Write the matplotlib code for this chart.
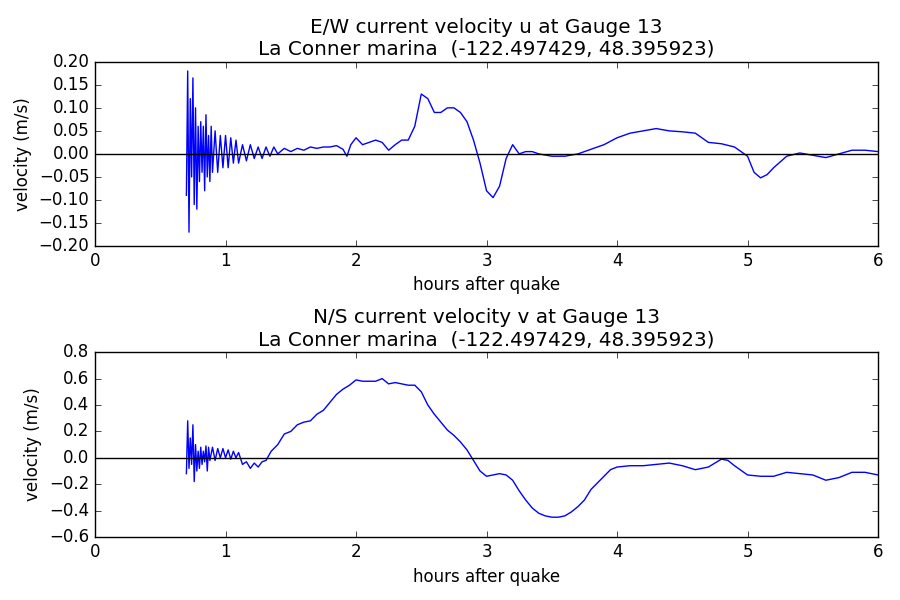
import matplotlib
matplotlib.use("Agg")
import matplotlib.pyplot as plt

t_u = [0.70, 0.71, 0.72, 0.73, 0.74, 0.75, 0.76, 0.77, 0.78, 0.79, 0.80, 0.81, 0.82, 0.83, 0.84,
       0.85, 0.86, 0.87, 0.88, 0.89, 0.90, 0.92, 0.94, 0.96, 0.98, 1.00, 1.02, 1.04, 1.06, 1.08,
       1.10, 1.13, 1.16, 1.19, 1.22, 1.25, 1.28, 1.31, 1.34, 1.37, 1.40, 1.45, 1.50, 1.55, 1.60,
       1.65, 1.70, 1.75, 1.80, 1.85, 1.90, 1.93, 1.96, 2.00, 2.05, 2.10, 2.15, 2.20, 2.25, 2.30,
       2.35, 2.40, 2.45, 2.50, 2.55, 2.60, 2.65, 2.70, 2.75, 2.80, 2.85, 2.90, 2.95, 3.00, 3.05,
       3.10, 3.15, 3.20, 3.25, 3.30, 3.35, 3.40, 3.50, 3.60, 3.70, 3.80, 3.90, 4.00, 4.10, 4.20,
       4.30, 4.40, 4.50, 4.60, 4.70, 4.80, 4.90, 5.00, 5.05, 5.10, 5.15, 5.20, 5.30, 5.40, 5.50,
       5.60, 5.70, 5.80, 5.90, 6.00]
u = [-0.09, 0.18, -0.17, 0.12, -0.05, 0.165, -0.11, 0.10, -0.12, 0.06, -0.06, 0.07, -0.04, 0.06, -0.08,
     0.085, -0.05, 0.04, -0.06, 0.06, -0.04, 0.05, -0.04, 0.04, -0.03, 0.04, -0.03, 0.035, -0.02, 0.03,
     -0.02, 0.02, -0.015, 0.02, -0.01, 0.015, -0.01, 0.015, -0.005, 0.015, 0.0, 0.012, 0.005, 0.012, 0.008,
     0.015, 0.012, 0.015, 0.015, 0.018, 0.01, -0.005, 0.02, 0.035, 0.02, 0.025, 0.03, 0.025, 0.008, 0.02,
     0.03, 0.03, 0.06, 0.13, 0.12, 0.09, 0.09, 0.10, 0.10, 0.09, 0.07, 0.03, -0.02, -0.08, -0.095,
     -0.07, -0.01, 0.02, 0.0, 0.005, 0.005, 0.0, -0.005, -0.005, 0.0, 0.01, 0.02, 0.035, 0.045, 0.05,
     0.055, 0.05, 0.048, 0.045, 0.025, 0.022, 0.015, -0.005, -0.04, -0.052, -0.045, -0.03, -0.005, 0.002, -0.003,
     -0.008, 0.0, 0.008, 0.008, 0.005]

t_v = [0.70, 0.71, 0.72, 0.73, 0.74, 0.75, 0.76, 0.77, 0.78, 0.79, 0.80, 0.81, 0.82, 0.83, 0.84,
       0.85, 0.86, 0.87, 0.88, 0.90, 0.92, 0.94, 0.96, 0.98, 1.00, 1.02, 1.04, 1.06, 1.08, 1.10,
       1.13, 1.16, 1.19, 1.22, 1.25, 1.28, 1.31, 1.35, 1.40, 1.45, 1.50, 1.55, 1.60, 1.65, 1.70,
       1.75, 1.80, 1.85, 1.90, 1.95, 2.00, 2.05, 2.10, 2.15, 2.20, 2.25, 2.30, 2.35, 2.40, 2.45,
       2.50, 2.55, 2.60, 2.65, 2.70, 2.75, 2.80, 2.85, 2.90, 2.95, 3.00, 3.05, 3.10, 3.15, 3.20,
       3.25, 3.30, 3.35, 3.40, 3.45, 3.50, 3.55, 3.60, 3.65, 3.70, 3.75, 3.80, 3.85, 3.90, 3.95,
       4.00, 4.10, 4.20, 4.30, 4.40, 4.50, 4.60, 4.70, 4.80, 4.85, 4.90, 5.00, 5.10, 5.20, 5.30,
       5.40, 5.50, 5.60, 5.70, 5.80, 5.90, 6.00]
v = [-0.12, 0.28, -0.08, 0.15, -0.05, 0.25, -0.18, 0.10, -0.10, 0.05, -0.08, 0.08, -0.05, 0.05, -0.03,
     0.09, -0.10, 0.08, -0.02, 0.08, -0.02, 0.07, 0.0, 0.07, 0.0, 0.06, -0.01, 0.05, 0.0, 0.04,
     -0.05, -0.03, -0.08, -0.04, -0.07, -0.03, -0.02, 0.05, 0.10, 0.18, 0.20, 0.25, 0.27, 0.28, 0.33,
     0.36, 0.42, 0.48, 0.52, 0.55, 0.59, 0.58, 0.58, 0.58, 0.60, 0.56, 0.57, 0.56, 0.55, 0.55,
     0.50, 0.40, 0.33, 0.27, 0.21, 0.17, 0.12, 0.06, -0.02, -0.10, -0.14, -0.13, -0.12, -0.13, -0.17,
     -0.25, -0.32, -0.38, -0.42, -0.44, -0.45, -0.45, -0.44, -0.41, -0.37, -0.32, -0.24, -0.19, -0.14, -0.09,
     -0.07, -0.06, -0.06, -0.05, -0.04, -0.06, -0.09, -0.07, -0.01, -0.02, -0.06, -0.13, -0.14, -0.14, -0.11,
     -0.12, -0.13, -0.17, -0.15, -0.11, -0.11, -0.13]

loc = "La Conner marina  (-122.497429, 48.395923)"

plt.style.use("classic")
fig = plt.figure(figsize=(9, 6), dpi=100, facecolor="white")

ax1 = fig.add_axes([0.1056, 0.59, 0.87, 0.307])
ax1.plot(t_u, u, "b-")
ax1.plot([0, 6], [0, 0], "k-")
ax1.set_xlim(0, 6)
ax1.set_ylim(-0.2, 0.2)
ax1.set_yticks([-0.2, -0.15, -0.1, -0.05, 0, 0.05, 0.1, 0.15, 0.2])
ax1.set_xlabel("hours after quake")
ax1.set_ylabel("velocity (m/s)")
ax1.set_title("E/W current velocity u at Gauge 13\n" + loc)

ax2 = fig.add_axes([0.1056, 0.105, 0.87, 0.308])
ax2.plot(t_v, v, "b-")
ax2.plot([0, 6], [0, 0], "k-")
ax2.set_xlim(0, 6)
ax2.set_ylim(-0.6, 0.8)
ax2.set_xlabel("hours after quake")
ax2.set_ylabel("velocity (m/s)")
ax2.set_title("N/S current velocity v at Gauge 13\n" + loc)

fig.savefig("out.png", dpi=100, facecolor="white")
